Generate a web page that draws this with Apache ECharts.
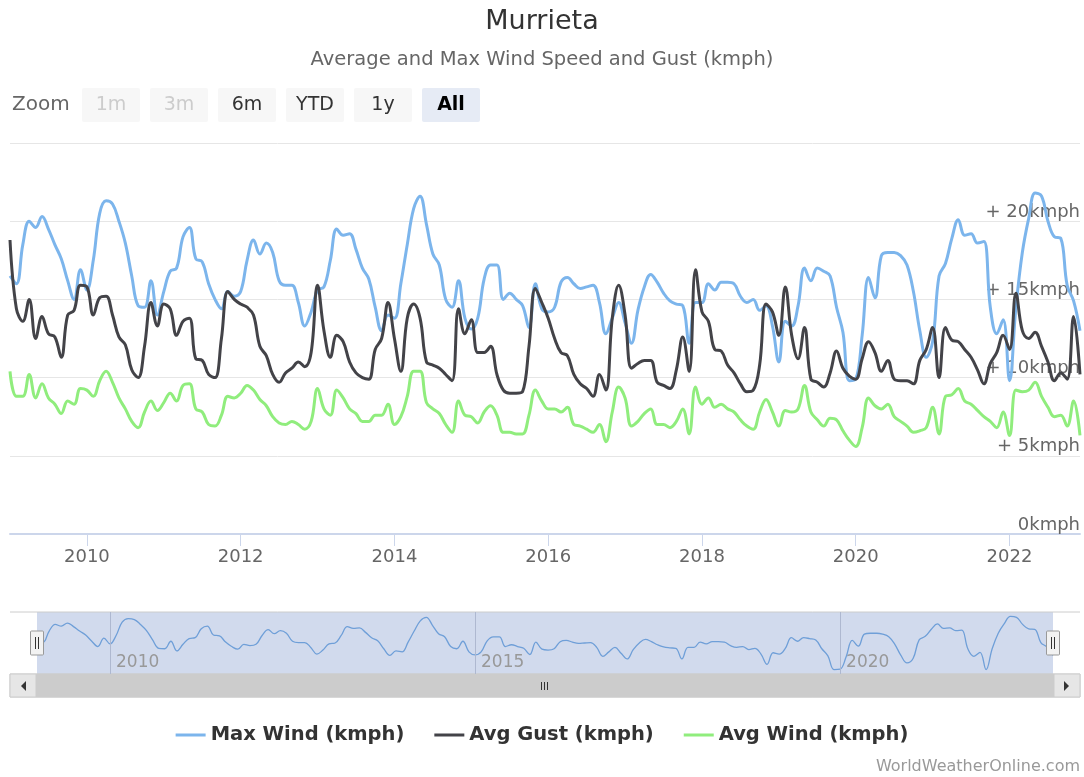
<!DOCTYPE html>
<html>
<head>
<meta charset="utf-8">
<title>Murrieta wind</title>
<script src="https://cdn.jsdelivr.net/npm/echarts@6/dist/echarts.min.js"></script>
<style>
  html, body { margin: 0; padding: 0; background: #fff; }
  #chart { width: 1084px; height: 777px; }
</style>
</head>
<body>
<div id="chart"></div>
<script>
// monthly values, Jan 2009 .. Dec 2022
const startYear = 2009;
const maxWind = [
  16.5, 16.0, 18.5, 20.0, 19.6, 20.3, 19.5, 18.5, 17.6, 16.2,
  15.0, 16.9, 15.6, 17.5, 20.5, 21.3, 21.1, 20.0, 18.6, 16.5,
  14.6, 14.5, 16.2, 14.0, 15.5, 16.8, 17.0, 19.0, 19.6, 17.6,
  17.4, 16.0, 15.0, 14.4, 15.5, 15.2, 15.5, 17.5, 18.8, 17.9,
  18.6, 18.0, 16.2, 15.9, 15.9, 14.8, 13.3, 14.2, 15.6, 15.8,
  17.5, 19.5, 19.1, 19.2, 18.2, 17.0, 16.3, 14.5, 13.0, 14.0,
  13.8, 16.0, 18.5, 20.8, 21.6, 19.8, 17.9, 17.2, 15.0, 14.5,
  16.2, 13.8, 13.1, 13.8, 16.3, 17.2, 17.2, 15.0, 15.4, 15.0,
  14.6, 13.2, 16.0, 14.4, 14.2, 14.5, 16.1, 16.4, 16.0, 15.7,
  15.8, 15.9, 14.8, 12.8, 13.8, 14.8, 13.5, 12.2, 14.3, 15.8,
  16.6, 16.1, 15.4, 14.9, 14.7, 14.6, 12.2, 14.8, 14.8, 16.0,
  15.6, 16.1, 16.1, 16.0, 15.2, 14.8, 15.0, 14.3, 14.6, 13.3,
  11.0, 13.6, 13.3, 14.6, 17.0, 16.2, 17.0, 16.8, 16.5, 14.5,
  12.9, 9.8, 9.9, 12.7, 16.4, 15.1, 17.8, 18.0, 18.0, 17.8,
  17.2, 15.5, 13.0, 11.3, 12.3, 16.5, 17.3, 18.9, 20.1, 19.1,
  19.2, 18.6, 18.7, 14.5, 12.8, 13.7, 9.8, 14.5, 18.0, 20.2,
  21.8, 21.6, 20.0, 19.0, 18.9, 15.9, 14.9, 13.0
];
const avgGust = [
  18.8, 14.4, 13.6, 15.0, 12.5, 13.9, 12.8, 12.6, 11.3, 14.0,
  14.3, 15.9, 15.8, 14.0, 15.1, 15.2, 14.0, 12.6, 12.1, 10.5,
  10.0, 12.0, 14.8, 13.3, 14.7, 14.4, 12.7, 13.6, 13.8, 11.2,
  11.1, 10.2, 10.0, 12.5, 15.5, 15.0, 14.7, 14.5, 14.0, 12.0,
  11.4, 10.2, 9.7, 10.3, 10.6, 11.0, 10.7, 11.6, 15.9, 13.0,
  11.3, 12.7, 12.3, 11.0, 10.3, 10.0, 9.9, 11.8, 12.5, 14.8,
  12.5, 10.4, 13.8, 14.7, 13.8, 11.0, 10.8, 10.6, 10.2, 9.8,
  14.4, 12.8, 13.7, 11.6, 11.6, 12.0, 10.2, 9.2, 9.0, 9.0,
  9.1, 12.0, 15.7, 14.8, 13.8, 12.5, 11.6, 11.4, 10.2, 9.6,
  9.3, 8.8, 10.2, 9.2, 13.8, 15.9, 14.0, 10.6, 10.9, 11.1,
  11.1, 9.7, 9.5, 9.3, 10.5, 12.6, 10.4, 16.9, 14.2, 13.6,
  11.8, 11.7, 10.8, 10.3, 9.6, 9.1, 9.2, 10.8, 14.7, 14.2,
  12.7, 15.8, 12.7, 11.2, 13.2, 9.9, 9.7, 9.4, 10.3, 11.7,
  10.6, 10.1, 9.9, 11.2, 12.3, 11.6, 10.4, 11.1, 9.9, 9.8,
  9.8, 9.6, 11.1, 11.8, 13.2, 10.0, 13.2, 12.4, 12.3, 11.8,
  11.3, 10.5, 9.6, 10.9, 11.6, 12.7, 11.8, 15.4, 13.0, 12.5,
  12.9, 12.0, 11.0, 9.8, 10.3, 9.9, 13.9, 10.2
];
const avgWind = [
  10.4, 8.8, 8.8, 10.2, 8.7, 9.6, 8.7, 8.3, 7.7, 8.5,
  8.3, 9.3, 9.2, 8.8, 9.8, 10.4, 9.7, 8.7, 8.0, 7.2,
  6.8, 7.8, 8.5, 7.9, 8.4, 9.0, 8.5, 9.5, 9.6, 8.0,
  7.8, 7.0, 6.9, 7.6, 8.8, 8.7, 9.0, 9.5, 9.2, 8.6,
  8.2, 7.5, 7.1, 7.0, 7.2, 7.0, 6.7, 7.2, 9.3, 8.0,
  7.6, 9.2, 8.7, 8.0, 7.7, 7.2, 7.2, 7.6, 7.6, 8.3,
  7.0, 7.5, 8.8, 10.4, 10.4, 8.4, 8.0, 7.7, 7.0, 6.5,
  8.5, 7.6, 7.5, 7.1, 7.8, 8.2, 7.6, 6.5, 6.5, 6.4,
  6.4, 7.6, 9.2, 8.5, 8.0, 8.0, 7.8, 8.1, 7.0, 6.9,
  6.7, 6.5, 7.0, 5.9, 7.8, 9.4, 8.7, 6.9, 7.2, 7.7,
  8.0, 7.0, 7.0, 6.8, 7.2, 8.0, 6.4, 9.4, 8.3, 8.7,
  8.1, 8.3, 8.0, 7.8, 7.3, 6.9, 6.7, 7.8, 8.6, 7.8,
  6.9, 7.9, 7.8, 8.0, 9.5, 7.8, 7.3, 6.9, 7.4, 7.3,
  6.6, 6.0, 5.6, 6.8, 8.7, 8.2, 8.0, 8.3, 7.5, 7.2,
  6.9, 6.5, 6.6, 6.8, 8.1, 6.4, 8.8, 8.9, 9.3, 8.5,
  8.3, 7.9, 7.5, 7.2, 6.8, 7.8, 6.3, 9.2, 9.1, 9.2,
  9.7, 8.8, 8.1, 7.5, 7.6, 6.9, 8.5, 6.3
];
const seriesNames = ['Max Wind (kmph)', 'Avg Gust (kmph)', 'Avg Wind (kmph)'];
const xTickYears = [2010, 2012, 2014, 2016, 2018, 2020, 2022];
const navYears = [2010, 2015, 2020];
const yTicks = [0, 5, 10, 15, 20];
const rangeButtons = ['1m', '3m', '6m', 'YTD', '1y', 'All'];

// [decimal year, value]
function toPairs(arr) {
  return arr.map((v, i) => [startYear + i / 12, v]);
}
const xMin = startYear;
const xMax = startYear + (maxWind.length - 1) / 12;

const colors = ['#7cb5ec', '#434348', '#90ed7d'];

const chart = echarts.init(document.getElementById('chart'));

// range selector buttons + navigator chrome (Highcharts-like look)
const graphics = [
  { type: 'text', x: 12, y: 105, style: { text: 'Zoom', fontSize: 20, fill: '#666', fontFamily: 'DejaVu Sans', verticalAlign: 'middle' } }
];
rangeButtons.forEach((b, i) => {
  const x = 82 + i * 68;
  const disabled = i < 2;
  const selected = b === 'All';
  graphics.push({
    type: 'rect', shape: { x: x, y: 88, width: 58, height: 34, r: 2 },
    style: { fill: selected ? '#e6ebf5' : '#f7f7f7' }
  });
  graphics.push({
    type: 'text', x: x + 29, y: 105,
    style: {
      text: b, fontSize: 19, fontFamily: 'DejaVu Sans',
      fontWeight: selected ? 'bold' : 'normal',
      fill: disabled ? '#cccccc' : (selected ? '#000' : '#333'),
      align: 'center', verticalAlign: 'middle'
    }
  });
});

// navigator outline, handles, scrollbar
graphics.push(
  { type: 'line', shape: { x1: 10, y1: 612, x2: 1080, y2: 612 }, style: { stroke: '#cccccc', lineWidth: 1 } },
  { type: 'rect', shape: { x: 10, y: 674, width: 1070, height: 23 }, style: { fill: '#f2f2f2', stroke: '#cccccc' } },
  { type: 'rect', shape: { x: 36, y: 674, width: 1018, height: 23 }, style: { fill: '#cccccc', stroke: '#cccccc' } },
  { type: 'rect', shape: { x: 10, y: 674, width: 26, height: 23 }, style: { fill: '#e6e6e6', stroke: '#cccccc' } },
  { type: 'rect', shape: { x: 1054, y: 674, width: 26, height: 23 }, style: { fill: '#e6e6e6', stroke: '#cccccc' } },
  { type: 'polygon', shape: { points: [[26, 681], [26, 691], [21, 686]] }, style: { fill: '#333' } },
  { type: 'polygon', shape: { points: [[1064, 681], [1064, 691], [1069, 686]] }, style: { fill: '#333' } },
  { type: 'line', shape: { x1: 541.5, y1: 682, x2: 541.5, y2: 690 }, style: { stroke: '#333' } },
  { type: 'line', shape: { x1: 544.5, y1: 682, x2: 544.5, y2: 690 }, style: { stroke: '#333' } },
  { type: 'line', shape: { x1: 547.5, y1: 682, x2: 547.5, y2: 690 }, style: { stroke: '#333' } }
);
[37, 1053].forEach(cx => {
  graphics.push(
    { type: 'rect', z: 100, shape: { x: cx - 6.5, y: 631, width: 13, height: 24, r: 1 }, style: { fill: '#f2f2f2', stroke: '#999' } },
    { type: 'line', z: 101, shape: { x1: cx - 1.5, y1: 637, x2: cx - 1.5, y2: 649 }, style: { stroke: '#333' } },
    { type: 'line', z: 101, shape: { x1: cx + 1.5, y1: 637, x2: cx + 1.5, y2: 649 }, style: { stroke: '#333' } }
  );
});
graphics.push({
  type: 'text', right: 4, top: 759,
  style: { text: 'WorldWeatherOnline.com', fontSize: 16, fill: '#999', fontFamily: 'DejaVu Sans' }
});

const option = {
  animation: false,
  textStyle: { fontFamily: 'DejaVu Sans' },
  title: {
    text: 'Murrieta',
    subtext: 'Average and Max Wind Speed and Gust (kmph)',
    left: 'center',
    top: 3,
    itemGap: 15,
    textStyle: { fontSize: 27, fontWeight: 'normal', color: '#333' },
    subtextStyle: { fontSize: 19.5, color: '#666' }
  },
  legend: {
    data: seriesNames,
    top: 720,
    left: 'center',
    icon: 'rect',
    itemWidth: 30,
    itemHeight: 3,
    itemGap: 30,
    textStyle: { fontSize: 19.5, fontWeight: 'bold', color: '#333' }
  },
  graphic: graphics,
  grid: [
    { left: 10, right: 4, top: 143, height: 391 },
    { left: 37, right: 31, top: 612, height: 62, show: true, backgroundColor: 'rgba(102,133,194,0.3)', borderWidth: 0 }
  ],
  xAxis: [
    {
      type: 'value', gridIndex: 0, min: xMin, max: xMax,
      splitLine: { show: false },
      axisLine: { lineStyle: { color: '#ccd6eb', width: 2 } },
      axisTick: { customValues: xTickYears, length: 12, lineStyle: { color: '#ccd6eb' } },
      axisLabel: { customValues: xTickYears, formatter: v => String(v), fontSize: 18, color: '#666', margin: 14 }
    },
    {
      type: 'value', gridIndex: 1, min: xMin, max: xMax,
      splitLine: { show: false },
      axisLine: { show: false },
      axisTick: { show: false },
      axisLabel: {
        customValues: navYears, formatter: v => String(v), inside: true,
        align: 'left', verticalAlign: 'bottom', padding: [0, 0, 0, 6],
        fontSize: 17, color: '#999', margin: 3
      }
    }
  ],
  yAxis: [
    {
      type: 'value', gridIndex: 0, position: 'right', min: 0, max: 25, interval: 5,
      axisLine: { show: false },
      axisTick: { show: false },
      splitLine: { lineStyle: { color: '#e6e6e6' } },
      axisLabel: {
        inside: true, margin: 0, verticalAlign: 'bottom', fontSize: 18, color: '#666',
        formatter: v => yTicks.indexOf(v) < 0 ? '' : (v === 0 ? '0kmph' : '+ ' + v + 'kmph')
      }
    },
    { type: 'value', gridIndex: 1, min: 8.8, max: 22.8, show: false }
  ],
  series: [
    { name: seriesNames[0], data: toPairs(maxWind), color: colors[0] },
    { name: seriesNames[1], data: toPairs(avgGust), color: colors[1] },
    { name: seriesNames[2], data: toPairs(avgWind), color: colors[2] }
  ].map(s => Object.assign({
    type: 'line', smooth: 0.4, showSymbol: false,
    lineStyle: { width: 3 }
  }, s)).concat([{
    name: 'navigator',
    type: 'line', xAxisIndex: 1, yAxisIndex: 1,
    data: toPairs(maxWind), smooth: 0.4, showSymbol: false,
    lineStyle: { color: '#6f9fd8', width: 1.3 },
    markLine: {
      silent: true, symbol: ['none', 'none'], label: { show: false },
      lineStyle: { color: '#aeb8d0', width: 1, type: 'solid' },
      data: navYears.map(y => ({ xAxis: y }))
    }
  }])
};

chart.setOption(option);
</script>
</body>
</html>
